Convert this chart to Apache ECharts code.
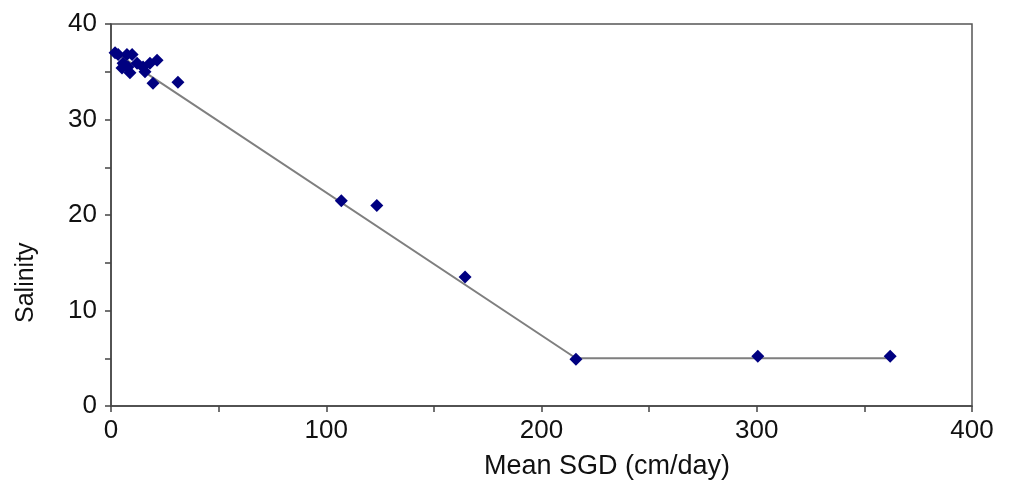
<!DOCTYPE html>
<html>
<head>
<meta charset="utf-8">
<script src="https://cdn.jsdelivr.net/npm/echarts@6/dist/echarts.min.js"></script>
<style>
html,body{margin:0;padding:0;background:#fff;}
#chart{width:1010px;height:496px;}
</style>
</head>
<body>
<div id="chart"></div>
<script>
// Observed data: Mean SGD (cm/day) vs Salinity
const sgd = [1.9, 3.3, 7.4, 9.8, 5.6, 5.1, 7.9, 8.8, 12.1, 14.9, 15.8, 18.1, 21.4, 19.5, 31.1, 107, 123.5, 164.5, 216, 300.5, 362];
const salinity = [37.0, 36.8, 36.8, 36.8, 35.9, 35.4, 35.5, 34.9, 35.9, 35.5, 35.0, 35.9, 36.2, 33.8, 33.9, 21.5, 21.0, 13.5, 4.9, 5.2, 5.2];
// Fitted piecewise line
const fitX = [2, 216, 362];
const fitY = [37.0, 5.0, 5.0];
const xTickLabels = ['0', '100', '200', '300', '400'];
const yTickLabels = ['0', '10', '20', '30', '40'];
const xName = 'Mean SGD (cm/day)';
const yName = 'Salinity';

const pts = sgd.map((x, i) => [x, salinity[i]]);
const fit = fitX.map((x, i) => [x, fitY[i]]);
const font = '"Liberation Sans", Arial, sans-serif';

const chart = echarts.init(document.getElementById('chart'));
chart.setOption({
  backgroundColor: '#ffffff',
  animation: false,
  grid: { left: 111, top: 24, right: 38, bottom: 90, show: true, borderColor: '#555', borderWidth: 1.5, backgroundColor: 'transparent' },
  xAxis: {
    type: 'value', min: 0, max: 400, interval: 50,
    axisLine: { show: true, onZero: false, lineStyle: { color: '#444', width: 1.5 } },
    axisTick: { show: true, length: 6, lineStyle: { color: '#444', width: 1.5 } },
    splitLine: { show: false },
    axisLabel: {
      color: '#111', fontFamily: font, fontSize: 26, margin: 12,
      formatter: v => (v % 100 === 0 ? xTickLabels[v / 100] : '')
    }
  },
  yAxis: {
    type: 'value', min: 0, max: 40, interval: 5,
    axisLine: { show: true, onZero: false, lineStyle: { color: '#444', width: 1.5 } },
    axisTick: { show: true, length: 6, lineStyle: { color: '#444', width: 1.5 } },
    splitLine: { show: false },
    axisLabel: {
      color: '#111', fontFamily: font, fontSize: 26, margin: 14,
      formatter: v => (v % 10 === 0 ? yTickLabels[v / 10] : '')
    }
  },
  graphic: [
    { type: 'text', left: 484, top: 453, style: { text: xName, font: '27px ' + font, fill: '#111' } },
    { type: 'text', x: 14, y: 323, rotation: Math.PI / 2, style: { text: yName, font: '25px ' + font, fill: '#111' } }
  ],
  series: [
    {
      type: 'line', data: fit, symbol: 'none', silent: true,
      lineStyle: { color: '#7f7f7f', width: 2 }, z: 2
    },
    {
      type: 'scatter', data: pts, symbol: 'diamond', symbolSize: 13,
      itemStyle: { color: '#000080', opacity: 1 }, z: 3
    }
  ]
});
</script>
</body>
</html>
